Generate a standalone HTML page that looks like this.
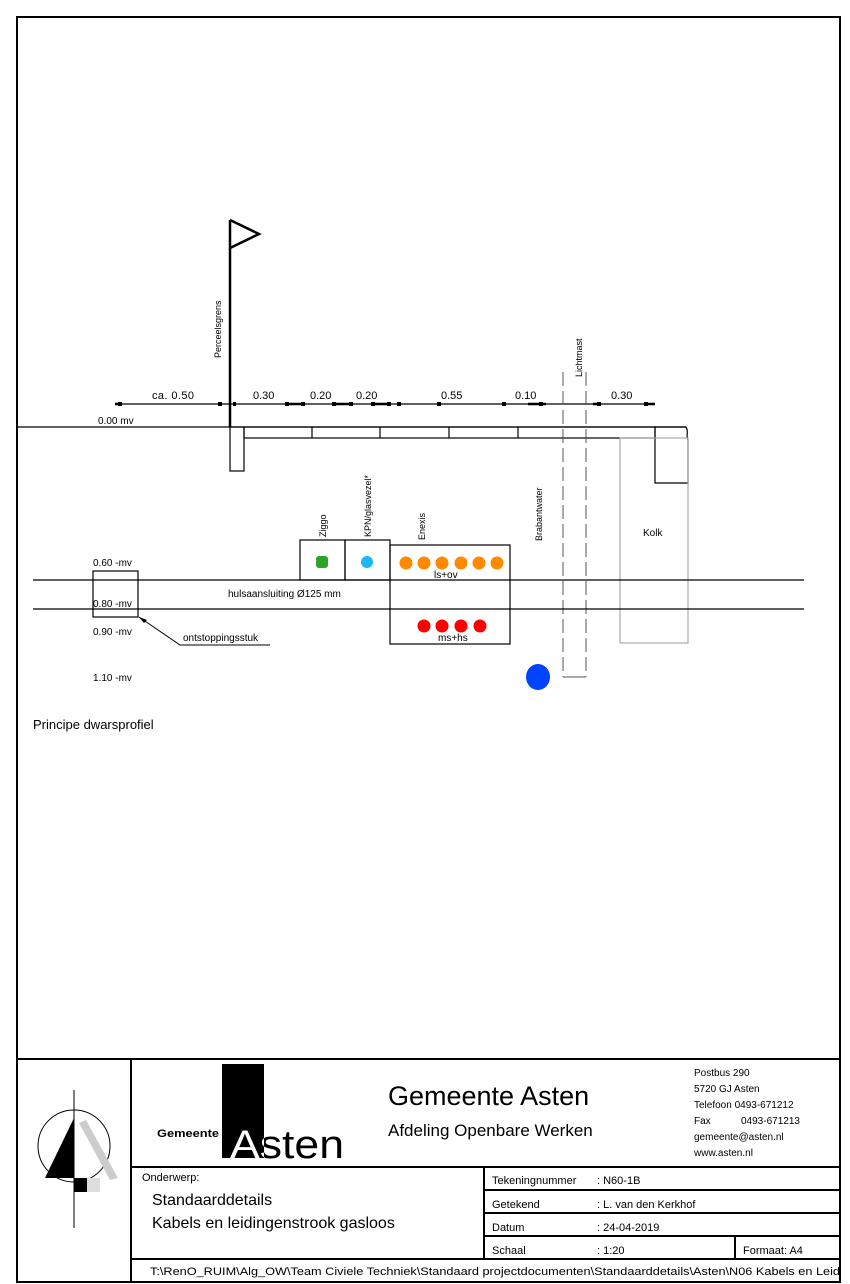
<!DOCTYPE html>
<html><head><meta charset="utf-8"><style>
html,body{margin:0;padding:0;background:#fff}
svg{display:block}
text{font-family:"Liberation Sans",sans-serif;fill:#000}
</style></head><body>
<svg width="850" height="1284" viewBox="0 0 850 1284" xmlns="http://www.w3.org/2000/svg">
<rect x="17" y="17" width="823" height="1265" fill="none" stroke="#000" stroke-width="2"/>

<!-- flag / property line -->
<line x1="230" y1="220" x2="230" y2="427" stroke="#000" stroke-width="2.5"/>
<polyline points="230,220 259,234 230,248" fill="none" stroke="#000" stroke-width="2.5"/>
<text transform="translate(221,358) rotate(-90)" font-size="9">Perceelsgrens</text>

<!-- dimension line -->
<line x1="115" y1="404" x2="655" y2="404" stroke="#000" stroke-width="1.2"/>
<g fill="#000">
<rect x="118" y="402" width="4" height="4"/><rect x="218" y="402" width="4" height="4"/>
<rect x="233" y="402" width="3" height="4"/><rect x="285" y="402" width="4" height="4"/>
<rect x="301" y="402" width="4" height="4"/><rect x="332" y="402" width="4" height="4"/>
<rect x="349" y="402" width="4" height="4"/><rect x="371" y="402" width="4" height="4"/>
<rect x="387" y="402" width="4" height="4"/><rect x="397" y="402" width="4" height="4"/>
<rect x="437" y="402" width="4" height="4"/><rect x="502" y="402" width="4" height="4"/>
<rect x="539" y="402" width="4" height="4"/><rect x="597" y="402" width="4" height="4"/>
<rect x="644" y="402" width="4" height="4"/>
</g>
<line x1="115" y1="404" x2="122" y2="404" stroke="#000" stroke-width="2.5"/>
<line x1="528" y1="404" x2="546" y2="404" stroke="#000" stroke-width="2.5"/>
<line x1="593" y1="404" x2="601" y2="404" stroke="#000" stroke-width="2.5"/>
<line x1="644" y1="404" x2="655" y2="404" stroke="#000" stroke-width="2.5"/>
<line x1="285" y1="404" x2="305" y2="404" stroke="#000" stroke-width="2.5"/>
<line x1="332" y1="404" x2="353" y2="404" stroke="#000" stroke-width="2.5"/>
<line x1="371" y1="404" x2="391" y2="404" stroke="#000" stroke-width="2.5"/>
<g font-size="11">
<text x="152" y="399" textLength="42">ca. 0.50</text>
<text x="253" y="399">0.30</text>
<text x="310" y="399">0.20</text>
<text x="356" y="399">0.20</text>
<text x="441" y="399">0.55</text>
<text x="515" y="399">0.10</text>
<text x="611" y="399">0.30</text>
</g>
<text x="98" y="424" font-size="10">0.00 mv</text>

<!-- ground & road -->
<line x1="17" y1="427" x2="686" y2="427" stroke="#000" stroke-width="1.3"/>
<rect x="230" y="427" width="14" height="44" fill="none" stroke="#000" stroke-width="1.2"/>
<rect x="244" y="427" width="411" height="11" fill="none" stroke="#000" stroke-width="1.2"/>
<g stroke="#000" stroke-width="1.2">
<line x1="312" y1="427" x2="312" y2="438"/><line x1="380" y1="427" x2="380" y2="438"/>
<line x1="449" y1="427" x2="449" y2="438"/><line x1="518" y1="427" x2="518" y2="438"/>
</g>
<path d="M655,427 L686,427 Q688,430 687,436 L688,440 L688,483 L655,483 Z" fill="none" stroke="#000" stroke-width="1.2"/>
<rect x="620" y="438" width="68" height="205" fill="none" stroke="#aaa" stroke-width="1.2"/>
<text x="643" y="536" font-size="10">Kolk</text>

<!-- Lichtmast -->
<line x1="563" y1="372" x2="563" y2="677" stroke="#555" stroke-width="1" stroke-dasharray="14,5"/>
<line x1="586" y1="372" x2="586" y2="677" stroke="#555" stroke-width="1" stroke-dasharray="14,5"/>
<line x1="563" y1="677" x2="586" y2="677" stroke="#555" stroke-width="1"/>
<text transform="translate(582,377) rotate(-90)" font-size="9">Lichtmast</text>
<text transform="translate(542,541) rotate(-90)" font-size="9">Brabantwater</text>

<!-- cables -->
<line x1="33" y1="580" x2="804" y2="580" stroke="#000" stroke-width="1.3"/>
<line x1="33" y1="609" x2="804" y2="609" stroke="#000" stroke-width="1.3"/>
<rect x="93" y="571" width="45" height="46" fill="none" stroke="#000" stroke-width="1.2"/>
<g font-size="10">
<text x="93" y="566">0.60 -mv</text>
<text x="93" y="607">0.80 -mv</text>
<text x="93" y="635">0.90 -mv</text>
<text x="93" y="681">1.10 -mv</text>
<text x="228" y="597">hulsaansluiting Ø125 mm</text>
<text x="183" y="641">ontstoppingsstuk</text>
</g>
<polyline points="139,617 180,645 270,645" fill="none" stroke="#000" stroke-width="1"/>
<polygon points="139,617 147,620 144,623" fill="#000"/>

<!-- utility boxes -->
<rect x="300" y="540" width="45" height="40" fill="none" stroke="#000" stroke-width="1.2"/>
<rect x="345" y="540" width="45" height="40" fill="none" stroke="#000" stroke-width="1.2"/>
<rect x="390" y="545" width="120" height="99" fill="none" stroke="#000" stroke-width="1.2"/>
<text transform="translate(326,537) rotate(-90)" font-size="9">Ziggo</text>
<text transform="translate(371,537) rotate(-90)" font-size="9">KPN/glasvezel*</text>
<text transform="translate(425,540) rotate(-90)" font-size="9">Enexis</text>
<rect x="316" y="556" width="12" height="12" rx="3" fill="#2aa52a"/>
<circle cx="367" cy="562" r="6" fill="#1ab8f5"/>
<g fill="#ff8a00">
<circle cx="406" cy="563" r="6.5"/><circle cx="424" cy="563" r="6.5"/><circle cx="442" cy="563" r="6.5"/>
<circle cx="461" cy="563" r="6.5"/><circle cx="479" cy="563" r="6.5"/><circle cx="497" cy="563" r="6.5"/>
</g>
<g fill="#ff0000">
<circle cx="424" cy="626" r="6.5"/><circle cx="442" cy="626" r="6.5"/><circle cx="461" cy="626" r="6.5"/><circle cx="480" cy="626" r="6.5"/>
</g>
<text x="434" y="578" font-size="10">ls+ov</text>
<text x="438" y="641" font-size="10">ms+hs</text>
<ellipse cx="538" cy="677" rx="12" ry="13" fill="#0044ff"/>

<text x="33" y="729" font-size="13">Principe dwarsprofiel</text>

<!-- title block -->
<g stroke="#000" stroke-width="2" fill="none">
<line x1="17" y1="1059" x2="840" y2="1059"/>
<line x1="131" y1="1059" x2="131" y2="1282"/>
<line x1="131" y1="1167" x2="840" y2="1167"/>
<line x1="484" y1="1167" x2="484" y2="1259"/>
<line x1="484" y1="1190" x2="840" y2="1190"/>
<line x1="484" y1="1213" x2="840" y2="1213"/>
<line x1="484" y1="1236" x2="840" y2="1236"/>
<line x1="735" y1="1236" x2="735" y2="1259"/>
<line x1="131" y1="1259" x2="840" y2="1259"/>
</g>
<!-- north arrow -->
<line x1="74" y1="1090" x2="74" y2="1228" stroke="#000" stroke-width="1"/>
<circle cx="74" cy="1146" r="36" fill="none" stroke="#000" stroke-width="1"/>
<polygon points="74,1118 45,1178 74,1178" fill="#000"/>
<polygon points="79,1123 86,1120 118,1178 110,1180" fill="#ccc"/>
<rect x="74" y="1178" width="13" height="14" fill="#000"/>
<rect x="87" y="1178" width="13" height="14" fill="#ddd"/>

<rect x="222" y="1064" width="42" height="94" fill="#000"/>
<text x="157" y="1137" font-size="11" font-weight="bold" textLength="62" lengthAdjust="spacingAndGlyphs">Gemeente</text>
<text x="230" y="1158" font-size="40" textLength="114" lengthAdjust="spacingAndGlyphs">Asten</text>
<clipPath id="cb"><rect x="222" y="1064" width="42" height="94"/></clipPath>
<text x="230" y="1158" font-size="40" textLength="114" lengthAdjust="spacingAndGlyphs" style="fill:#fff" clip-path="url(#cb)">Asten</text>

<text x="388" y="1105" font-size="27">Gemeente Asten</text>
<text x="388" y="1136" font-size="17">Afdeling Openbare Werken</text>
<g font-size="10">
<text x="694" y="1076">Postbus 290</text>
<text x="694" y="1092">5720 GJ  Asten</text>
<text x="694" y="1108">Telefoon 0493-671212</text>
<text x="694" y="1124">Fax</text><text x="741" y="1124">0493-671213</text>
<text x="694" y="1140">gemeente@asten.nl</text>
<text x="694" y="1156">www.asten.nl</text>
</g>
<text x="142" y="1181" font-size="11">Onderwerp:</text>
<text x="152" y="1205" font-size="16">Standaarddetails</text>
<text x="152" y="1228" font-size="16">Kabels en leidingenstrook gasloos</text>
<g font-size="11">
<text x="492" y="1184">Tekeningnummer</text><text x="597" y="1184">:  N60-1B</text>
<text x="492" y="1208">Getekend</text><text x="597" y="1208">: L. van den Kerkhof</text>
<text x="492" y="1231">Datum</text><text x="597" y="1231">: 24-04-2019</text>
<text x="492" y="1254">Schaal</text><text x="597" y="1254">: 1:20</text>
<text x="743" y="1254">Formaat: A4</text>
<text x="150" y="1275" textLength="690" lengthAdjust="spacingAndGlyphs">T:\RenO_RUIM\Alg_OW\Team Civiele Techniek\Standaard projectdocumenten\Standaarddetails\Asten\N06 Kabels en Leid</text>
</g>
</svg>
</body></html>
